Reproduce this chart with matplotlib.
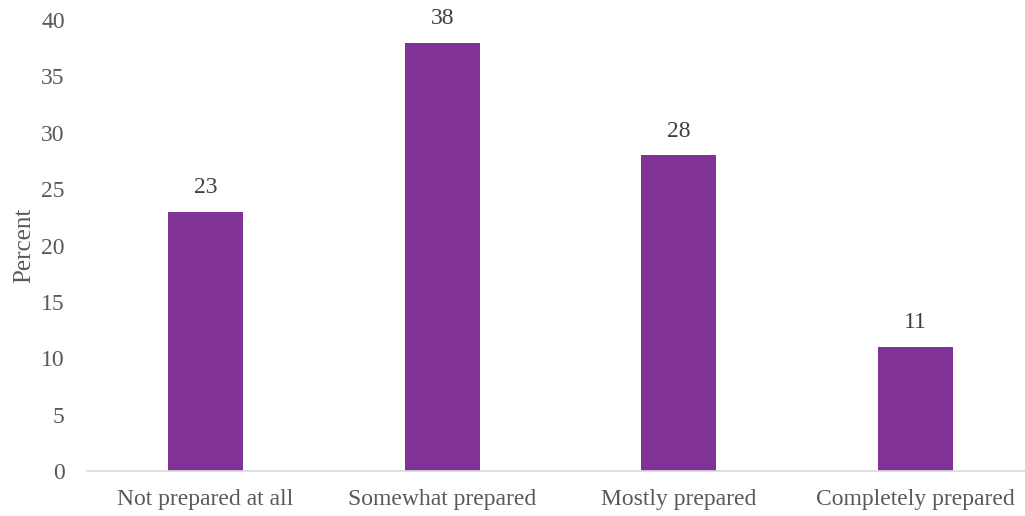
import matplotlib
matplotlib.use("Agg")
import matplotlib.pyplot as plt

categories = ["Not prepared at all", "Somewhat prepared", "Mostly prepared", "Completely prepared"]
values = [23, 38, 28, 11]
yticks = [0, 5, 10, 15, 20, 25, 30, 35, 40]

plt.rcParams['font.family'] = ['Liberation Serif', 'DejaVu Serif']
txt = '#595959'

fig = plt.figure(figsize=(10.25, 5.16), dpi=100)
# axes runs a little past the right edge of the picture, as in the reference
ax = fig.add_axes([87 / 1025, 1 - 471 / 516, (1034 - 87) / 1025, (471 - 20) / 516])

x = range(len(categories))
bars = ax.bar(x, values, width=0.317, color='#803296', zorder=2)
for b, v in zip(bars, values):
    ax.text(b.get_x() + b.get_width() / 2, v + 1.2, str(v), ha='center', va='bottom',
            fontsize=17, color='#404040')

ax.set_xlim(-0.5, len(categories) - 0.5)
ax.set_ylim(0, 40)
ax.set_yticks(yticks)
ax.set_xticks(list(x))
ax.set_xticklabels(categories)
ax.tick_params(axis='both', length=0, labelsize=17, labelcolor=txt)
ax.tick_params(axis='y', pad=16)
ax.tick_params(axis='x', pad=13)
ax.set_ylabel('Percent', fontsize=18, color=txt, labelpad=4)

for s in ['top', 'right', 'left']:
    ax.spines[s].set_visible(False)
ax.spines['bottom'].set_color('#d9d9d9')
ax.spines['bottom'].set_linewidth(1.2)

fig.savefig('out.png', dpi=100)
